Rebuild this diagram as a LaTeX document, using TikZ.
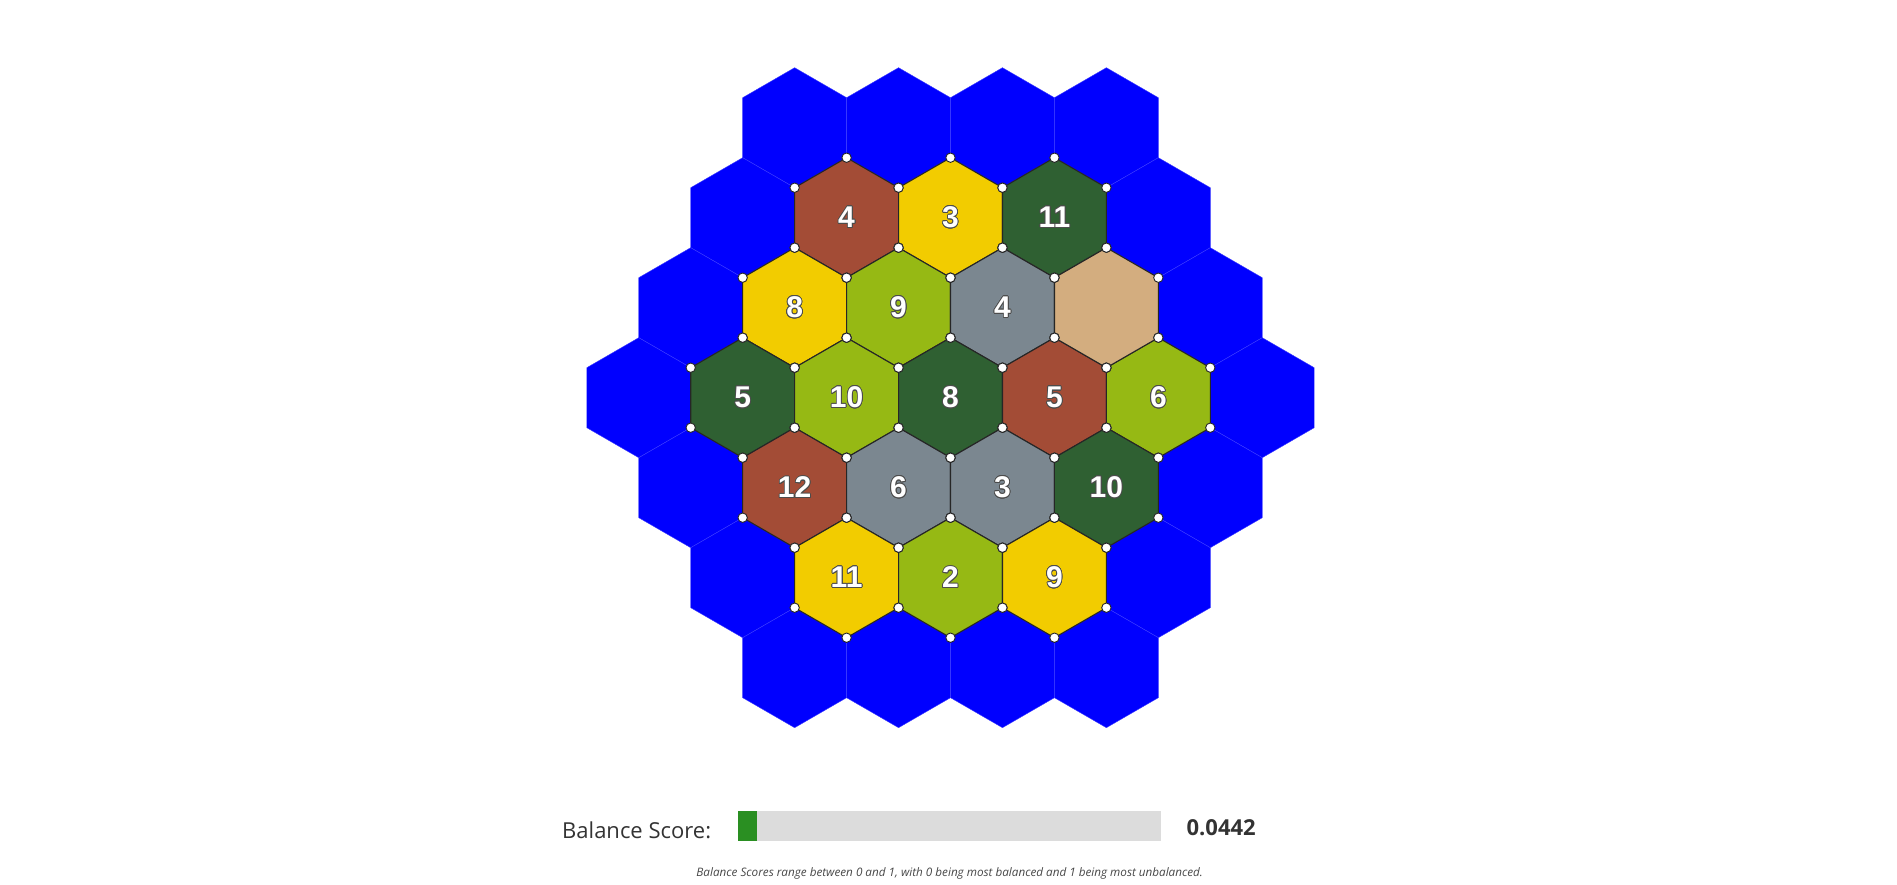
\documentclass[tikz,border=0pt]{standalone}
\usepackage{fontspec}
\setmainfont{Open Sans}
\newfontfamily\numfont{Liberation Sans}
\usepackage[copies]{contour}
\contourlength{0.8pt}
\contournumber{16}
\usetikzlibrary{calc, positioning}

\definecolor{water}{HTML}{0000FF}
\definecolor{waterline}{HTML}{3C3CFF}
\definecolor{brick}{HTML}{A34C36}
\definecolor{wheat}{HTML}{F2CC00}
\definecolor{forest}{HTML}{2F6032}
\definecolor{pasture}{HTML}{96B914}
\definecolor{ore}{HTML}{7B8790}
\definecolor{desert}{HTML}{D3AD7F}
\definecolor{barbg}{HTML}{DCDCDC}
\definecolor{barfg}{HTML}{2A8F22}
\definecolor{ink}{HTML}{333333}

\begin{document}
\begin{tikzpicture}[x=1pt,y=-1pt,
  sea/.style={fill=water, draw=waterline, line width=0.4pt},
  land/.style={draw=black!85, line width=1.1pt},
  corner/.style={fill=white, draw=black!85, line width=0.9pt},
  roll/.style={text=white, inner sep=0pt, font=\numfont\bfseries\fontsize{30}{36}\selectfont}]
\useasboundingbox (0,0) rectangle (1897,885);

% sea ring
\foreach \q/\r in {0/-3,1/-3,2/-3,3/-3,-1/-2,3/-2,-2/-1,3/-1,-3/0,3/0,
                   -3/1,2/1,-3/2,1/2,-3/3,-2/3,-1/3,0/3}
  \draw[sea, shift={({950.5+103.92*(\q+\r/2)},{397.7+90*\r})}]
    (30:60) -- (90:60) -- (150:60) -- (210:60) -- (270:60) -- (330:60) -- cycle;

% land tiles with their rolls
\foreach \q/\r/\kind/\num in {0/-2/brick/4, 1/-2/wheat/3, 2/-2/forest/11,
    -1/-1/wheat/8, 0/-1/pasture/9, 1/-1/ore/4,
    -2/0/forest/5, -1/0/pasture/10, 0/0/forest/8, 1/0/brick/5, 2/0/pasture/6,
    -2/1/brick/12, -1/1/ore/6, 0/1/ore/3, 1/1/forest/10,
    -2/2/wheat/11, -1/2/pasture/2, 0/2/wheat/9}
{
  \draw[land, fill=\kind, shift={({950.5+103.92*(\q+\r/2)},{397.7+90*\r})}]
    (30:60) -- (90:60) -- (150:60) -- (210:60) -- (270:60) -- (330:60) -- cycle;
  \node[roll] (t\q\r) at ({950.5+103.92*(\q+\r/2)},{397.7+90*\r}) {\contour{black!70}{\num}};
}
\draw[land, fill=desert, shift={(1106.4,307.7)}]
  (30:60) -- (90:60) -- (150:60) -- (210:60) -- (270:60) -- (330:60) -- cycle;

% corners
\foreach \q/\r in {0/-2,1/-2,2/-2,-1/-1,0/-1,1/-1,2/-1,-2/0,-1/0,0/0,1/0,2/0,
                   -2/1,-1/1,0/1,1/1,-2/2,-1/2,0/2}
  \foreach \a in {30,90,...,330}
    \filldraw[corner, shift={({950.5+103.92*(\q+\r/2)},{397.7+90*\r})}] (\a:60) circle (4.7pt);

% balance score
\node[anchor=west, inner sep=0pt, text=ink, font=\fontsize{22}{26}\selectfont] (label) at (562,830) {Balance Score:};
\node[anchor=west, fill=barbg, inner sep=0pt, minimum width=423pt, minimum height=30pt] (bar) at (738,825.5) {};
\node[anchor=west, fill=barfg, inner sep=0pt, minimum width=18.5pt, minimum height=30pt] (barfill) at (bar.west) {};
\node[right=25pt of bar, yshift=-2.5pt, inner sep=0pt, text=ink, font=\bfseries\fontsize{22}{27}\selectfont] (value) {0.0442};
\node[inner sep=0pt, text=ink!90, font=\itshape\fontsize{11.7}{13}\selectfont] (note) at (949.7,873)
  {Balance Scores range between 0 and 1, with 0 being most balanced and 1 being most unbalanced.};
\end{tikzpicture}
\end{document}
